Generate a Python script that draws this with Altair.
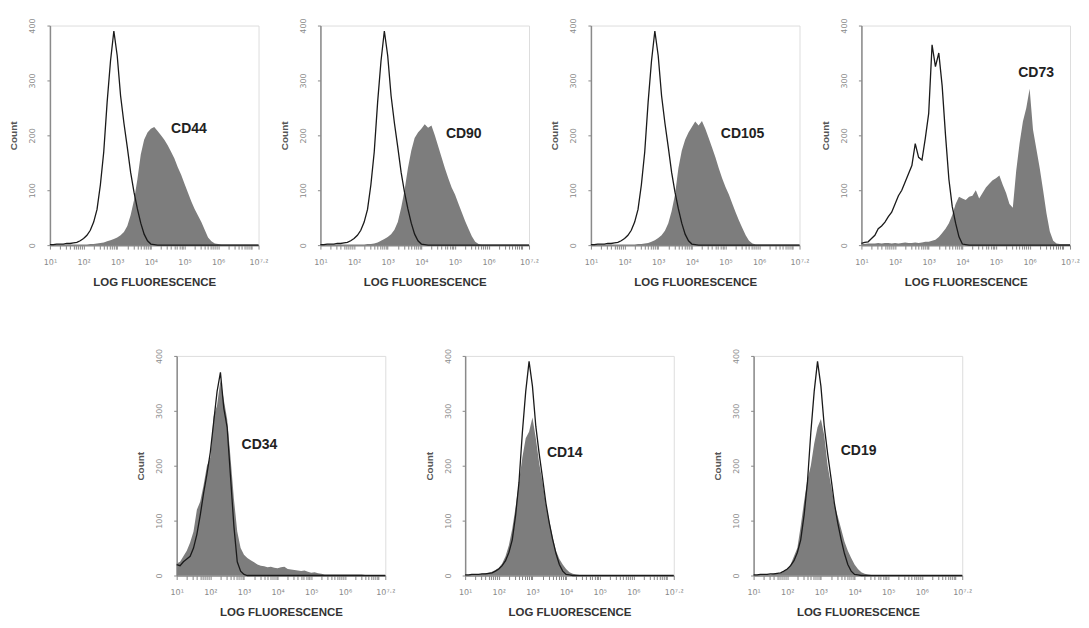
import altair as alt
import pandas as pd

# bin centres on the log10 fluorescence axis (10^1 .. 10^7.2)
log_bins = [round(1.0 + 0.1 * i, 1) for i in range(63)]

# isotype control (black outline), same acquisition for CD44/CD90/CD105/CD14/CD19
control_std = [1, 1, 2, 2, 2, 3, 3, 4, 5, 8,
               12, 18, 27, 42, 65, 110, 170, 260, 335, 390,
               345, 272, 222, 178, 132, 96, 66, 40, 20, 8,
               2, 1, 0, 0, 0, 0, 0, 0, 0, 0,
               0, 0, 0, 0, 0, 0, 0, 0, 0, 0,
               0, 0, 0, 0, 0, 0, 0, 0, 0, 0,
               0, 0, 0]
control_cd73 = [3, 5, 6, 12, 18, 30, 35, 42, 52, 60,
                75, 90, 100, 115, 130, 145, 185, 160, 155, 195,
                240, 365, 325, 350, 290, 200, 120, 70, 40, 15,
                2, 1, 0, 0, 0, 0, 0, 0, 0, 0,
                0, 0, 0, 0, 0, 0, 0, 0, 0, 0,
                0, 0, 0, 0, 0, 0, 0, 0, 0, 0,
                0, 0, 0]
control_cd34 = [20, 18, 25, 30, 35, 50, 75, 110, 150, 185,
                225, 280, 335, 370, 305, 270, 180, 90, 25, 8,
                2, 0, 0, 0, 0, 0, 0, 0, 0, 0,
                0, 0, 0, 0, 0, 0, 0, 0, 0, 0,
                0, 0, 0, 0, 0, 0, 0, 0, 0, 0,
                0, 0, 0, 0, 0, 0, 0, 0, 0, 0,
                0, 0, 0]

# stained samples (grey filled)
cd44 = [1, 1, 1, 1, 1, 1, 1, 1, 1, 1,
        1, 1, 2, 2, 3, 4, 5, 7, 9, 11,
        14, 18, 24, 35, 55, 82, 120, 165, 192, 205,
        212, 215, 208, 200, 192, 182, 170, 158, 142, 128,
        112, 96, 80, 66, 54, 42, 28, 14, 7, 3,
        2, 1, 1, 1, 1, 1, 1, 1, 1, 1,
        1, 1, 1]
cd90 = [1, 1, 1, 1, 1, 1, 1, 1, 1, 1,
        1, 1, 1, 1, 2, 2, 3, 5, 8, 11,
        15, 20, 28, 42, 68, 100, 140, 172, 195, 205,
        212, 220, 214, 218, 200, 180, 160, 140, 122, 105,
        92, 76, 60, 44, 30, 16, 6, 2, 1, 1,
        1, 1, 1, 1, 1, 1, 1, 1, 1, 1,
        1, 1, 1]
cd105 = [1, 1, 1, 1, 1, 1, 1, 1, 1, 1,
         1, 1, 1, 1, 2, 2, 3, 4, 6, 9,
         13, 18, 26, 40, 62, 92, 140, 172, 192, 205,
         215, 225, 218, 226, 212, 195, 178, 160, 140, 122,
         106, 92, 76, 60, 45, 31, 18, 8, 3, 1,
         1, 1, 1, 1, 1, 1, 1, 1, 1, 1,
         1, 1, 1]
cd73 = [2, 2, 3, 3, 3, 4, 3, 4, 4, 3,
        4, 3, 4, 5, 4, 4, 5, 4, 5, 6,
        6, 8, 10, 15, 22, 30, 40, 55, 75, 88,
        85, 82, 88, 90, 100, 85, 95, 105, 112, 118,
        122, 127, 110, 95, 75, 68, 135, 185, 225, 250,
        285, 210, 175, 140, 100, 58, 25, 8, 3, 2,
        2, 2, 2]
cd34 = [22, 25, 35, 45, 60, 80, 120, 135, 165, 200,
        215, 290, 310, 355, 320, 285, 215, 140, 80, 50,
        38, 32, 28, 24, 20, 18, 17, 15, 16, 14,
        13, 15, 16, 12, 11, 10, 9, 8, 9, 7,
        5, 6, 4, 3, 2, 2, 2, 2, 2, 2,
        2, 2, 2, 2, 2, 2, 1, 1, 1, 1,
        1, 1, 1]
cd14 = [1, 1, 1, 2, 2, 3, 4, 5, 7, 10,
        14, 22, 35, 55, 85, 125, 170, 215, 250, 262,
        288, 250, 205, 170, 130, 100, 70, 45, 30, 20,
        12, 6, 3, 2, 1, 1, 1, 1, 1, 1,
        1, 1, 1, 1, 1, 1, 1, 1, 1, 1,
        1, 1, 1, 1, 1, 1, 1, 1, 1, 1,
        1, 1, 1]
cd19 = [1, 1, 1, 1, 2, 2, 3, 3, 4, 7,
        12, 20, 35, 50, 90, 135, 175, 200, 240, 270,
        285, 255, 200, 165, 130, 108, 85, 62, 45, 32,
        20, 12, 6, 3, 2, 1, 1, 1, 1, 1,
        1, 1, 1, 1, 1, 1, 1, 1, 1, 1,
        1, 1, 1, 1, 1, 1, 1, 1, 1, 1,
        1, 1, 1]

# marker name, control, stained, label position (log10 fluorescence, count)
panels = [
    ("CD44", control_std, cd44, 4.6, 211),
    ("CD90", control_std, cd90, 4.73, 202),
    ("CD105", control_std, cd105, 4.86, 202),
    ("CD73", control_cd73, cd73, 5.66, 313),
    ("CD34", control_cd34, cd34, 2.93, 238),
    ("CD14", control_std, cd14, 3.43, 224),
    ("CD19", control_std, cd19, 3.59, 227),
]

x_max = 10 ** 7.2
tick_values = [k * 10 ** d for d in range(1, 8) for k in range(1, 10) if k * 10 ** d <= x_max] + [x_max]
label_expr = (
    "abs(log(datum.value)/LN10 - 7.2) < 0.01 ? '10\u2077\u00b7\u00b2' : "
    "(abs(log(datum.value)/LN10 - round(log(datum.value)/LN10)) < 0.001 && round(log(datum.value)/LN10) <= 6 ? "
    "'10' + ['\u2070','\u00b9','\u00b2','\u00b3','\u2074','\u2075','\u2076'][round(log(datum.value)/LN10)] : '')"
)

PW, PH = 209, 220

x_enc = alt.X(
    "fluor:Q",
    scale=alt.Scale(type="log", domain=[10, x_max], nice=False),
    axis=alt.Axis(
        values=tick_values, labelExpr=label_expr, labelOverlap=False, labelFlush=False,
        tickSize=4, tickColor="#888888", domainColor="#8a8a8a", domainWidth=1.5,
        labelFont="DejaVu Sans", labelFontSize=8, labelColor="#888888", labelPadding=9,
        title="LOG FLUORESCENCE", titleFont="Liberation Sans", titleFontSize=11.5,
        titleFontWeight="bold", titleColor="#333333", titlePadding=10, grid=False,
    ),
)


def y_enc(field):
    return alt.Y(
        f"{field}:Q",
        scale=alt.Scale(domain=[0, 400], nice=False),
        axis=alt.Axis(
            values=[0, 100, 200, 300, 400], labelAngle=270, labelFont="DejaVu Sans",
            labelFontSize=8, labelColor="#8a8a8a", labelPadding=10, tickSize=3,
            tickColor="#888888", domainColor="#8a8a8a", domainWidth=1.5,
            title="Count", titleFont="Liberation Sans", titleFontSize=10,
            titleFontWeight="bold", titleColor="#555555", titlePadding=10, grid=False,
        ),
    )


def make_panel(name, control, stained, lx, ly):
    df = pd.DataFrame({
        "fluor": [10 ** v for v in log_bins],
        "control": control,
        "stained": stained,
    })
    lab = pd.DataFrame({"fluor": [10 ** lx], "count": [ly], "name": [name]})
    area = alt.Chart(df).mark_area(color="#7d7d7d", opacity=1).encode(x=x_enc, y=y_enc("stained"))
    line = alt.Chart(df).mark_line(color="#1a1a1a", strokeWidth=1.3).encode(x=x_enc, y=y_enc("control"))
    text = alt.Chart(lab).mark_text(
        align="left", baseline="middle", font="Liberation Sans", fontSize=14,
        fontWeight="bold", color="#222222",
    ).encode(x=x_enc, y=y_enc("count"), text="name:N")
    return alt.layer(area, line, text).properties(width=PW, height=PH)


charts = [make_panel(*p) for p in panels]

spacer = alt.Chart(pd.DataFrame({"v": [0]})).mark_point(opacity=0).properties(
    width=47, height=PH, view=alt.ViewBackground(strokeOpacity=0)
)

top = alt.hconcat(*charts[:4], spacing=62, bounds="flush")
bottom = alt.hconcat(spacer, *charts[4:], spacing=80, bounds="flush")

chart = alt.vconcat(top, bottom, spacing=59).properties(
    padding={"left": 0, "top": 8, "right": 0, "bottom": 0}
).configure_view(stroke="#8a8a8a", strokeWidth=1.5).configure(background="white")

chart.save("out.html", embed_options={"renderer": "svg", "actions": False})
